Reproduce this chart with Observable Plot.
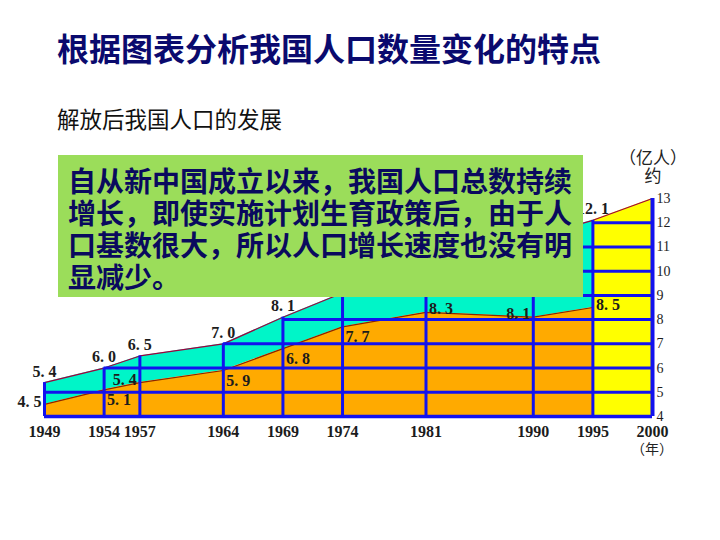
<!DOCTYPE html>
<html>
<head>
<meta charset="utf-8">
<script src="https://cdn.jsdelivr.net/npm/d3@7"></script>
<script src="https://cdn.jsdelivr.net/npm/@observablehq/plot@0.6"></script>
<style>
  html, body { margin: 0; padding: 0; background: #fff; }
  #page { position: relative; width: 720px; height: 540px; overflow: hidden; background: #fff; }
  #title { position: absolute; left: 57px; top: 30px; font-family: "Noto Sans CJK SC"; font-weight: bold; font-size: 32px; line-height: 34px; color: #0a0a6e; white-space: nowrap; }
  #subtitle { position: absolute; left: 57px; top: 106px; font-family: "Noto Sans CJK SC"; font-size: 22.5px; line-height: 24px; color: #111; white-space: nowrap; }
  #chart { position: absolute; left: 0; top: 130px; }
  #note { position: absolute; left: 58px; top: 155px; width: 515px; height: 133px; padding: 9px 0 0 10px; background: #9bdd5a; font-family: "Noto Sans CJK SC"; font-weight: bold; font-size: 28px; line-height: 32px; color: #0a0a5e; white-space: nowrap; }
  .unit { position: absolute; font-family: "Noto Sans CJK SC"; color: #222; white-space: nowrap; text-align: center; }
  #chart svg [aria-label^="y-axis"] text { font-size: 14px; }
  #chart svg [aria-label^="x-axis"] text { font-weight: bold; }
</style>
</head>
<body>
<div id="page">
  <div id="title">根据图表分析我国人口数量变化的特点</div>
  <div id="subtitle">解放后我国人口的发展</div>
  <div id="chart"></div>
  <div class="unit" style="left:619px; top:148px; width:68px; font-size:17px; line-height:18px;">（亿人）<br>约</div>
  <div class="unit" style="left:631px; top:441px; font-size:14px; line-height:1;">（年）</div>
  <div id="note">自从新中国成立以来，我国人口总数持续<br>增长，即使实施计划生育政策后，由于人<br>口基数很大，所以人口增长速度也没有明<br>显减少。</div>
</div>
<script>
// ---- data (亿人) ----
const years  = [1949, 1954, 1957, 1964, 1969, 1974, 1981, 1990, 1995, 2000];
const totals = [5.4, 6.0, 6.5, 7.0, 8.1, 9.1, 10.0, 11.4, 12.1, 13.0];
const lower  = [4.5, 5.1, 5.4, 5.9, 6.8, 7.7, 8.3, 8.1, 8.5, null];
const yTicks = [4, 5, 6, 7, 8, 9, 10, 11, 12, 13];
// years whose total label is hidden behind the note box in the reference
const hiddenTotalLabels = [1974, 1981, 1990];

const table = years.map((year, i) => ({year, total: totals[i], lower: lower[i]}));
const lastYear = years[years.length - 1];
const base = yTicks[0];
const past = table.filter(d => d.lower != null);
const future = table.filter(d => d.year >= past[past.length - 1].year);
const hLevels = yTicks.filter(k => k > base && k < yTicks[yTicks.length - 1])
  .map(k => ({k, start: table.find(d => d.total >= k).year}));

const fmt = v => d3.format(".1f")(v).replace(".", ". ");
const blue = "#1212ee";
const labelFill = "#1c1c1c";
const lab = {fill: labelFill, fontSize: 16, fontWeight: "bold"};

const chart = Plot.plot({
  width: 720,
  height: 340,
  marginLeft: 44,
  marginRight: 68,
  marginTop: 68,
  marginBottom: 54,
  style: {fontFamily: "Liberation Serif", fontSize: "16px", color: "#1c1c1c", background: "transparent", overflow: "visible"},
  x: {domain: [years[0], lastYear], ticks: years, tickFormat: "d", tickSize: 0, tickPadding: 9, label: null},
  y: {domain: [base, yTicks[yTicks.length - 1]], axis: "right", ticks: yTicks, tickSize: 0, tickPadding: 4, label: null},
  marks: [
    Plot.areaY(past, {x: "year", y1: "lower", y2: "total", fill: "#00f5c8"}),
    Plot.areaY(past, {x: "year", y1: base, y2: "lower", fill: "#ffaa00"}),
    Plot.areaY(future, {x: "year", y1: base, y2: "total", fill: "#ffff00"}),
    Plot.line(table, {x: "year", y: "total", stroke: "#a0003c", strokeWidth: 1.2}),
    Plot.line(past, {x: "year", y: "lower", stroke: "#8b2500", strokeWidth: 1.2}),
    Plot.ruleY(hLevels, {y: "k", x1: "start", x2: lastYear, stroke: blue, strokeWidth: 3}),
    Plot.ruleX(table, {x: "year", y1: base, y2: "total", stroke: blue, strokeWidth: 3}),
    Plot.ruleY([base], {x1: years[0], x2: lastYear, stroke: blue, strokeWidth: 3.5}),
    Plot.ruleX([lastYear], {y1: base, y2: yTicks[yTicks.length - 1], stroke: blue, strokeWidth: 4}),
    Plot.text(table.filter(d => d.year < lastYear && !hiddenTotalLabels.includes(d.year)), {x: "year", y: "total", text: d => fmt(d.total), dy: -11, ...lab}),
    Plot.text(past.filter(d => [1949, 1957, 1990].includes(d.year)), {x: "year", y: "lower", text: d => fmt(d.lower), textAnchor: "end", dx: -3, dy: -3, ...lab}),
    Plot.text(past.filter(d => [1954, 1964, 1969, 1974].includes(d.year)), {x: "year", y: "lower", text: d => fmt(d.lower), textAnchor: "start", dx: 3, dy: 10, ...lab}),
    Plot.text(past.filter(d => [1981, 1995].includes(d.year)), {x: "year", y: "lower", text: d => fmt(d.lower), textAnchor: "start", dx: 3, dy: -3, ...lab})
  ]
});
document.getElementById("chart").appendChild(chart);
</script>
</body>
</html>
